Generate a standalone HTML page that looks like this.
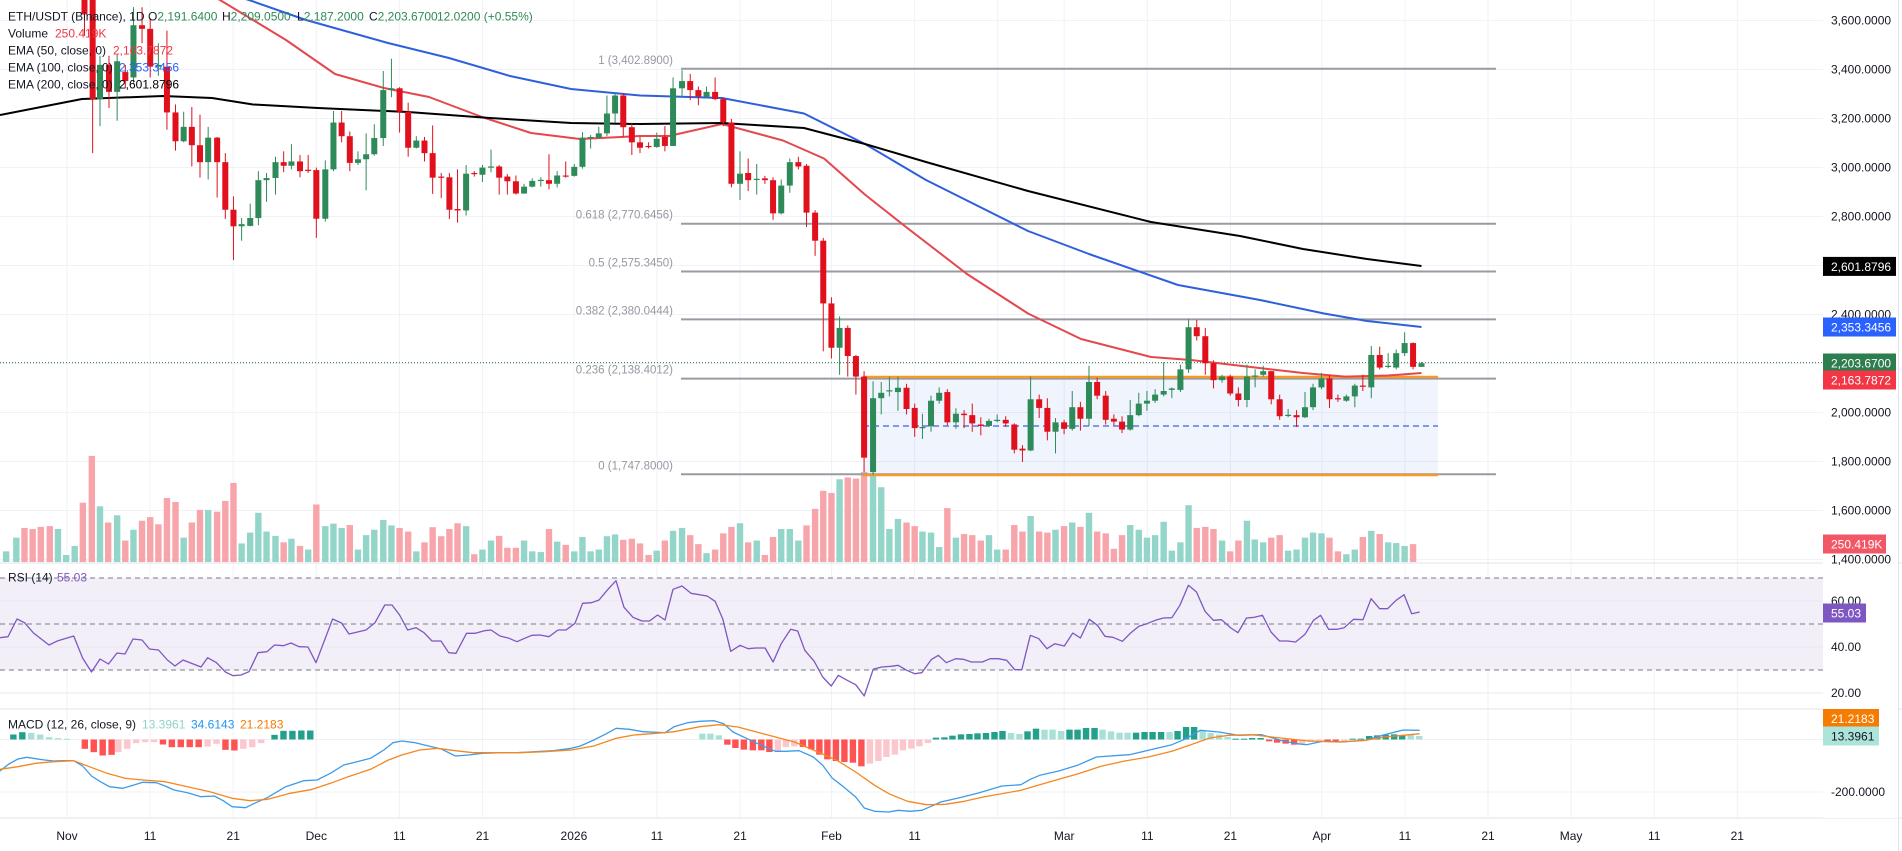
<!DOCTYPE html>
<html><head><meta charset="utf-8"><style>
html,body{margin:0;padding:0;background:#fff;}
svg{display:block;font-family:"Liberation Sans",sans-serif;}
</style></head><body>
<svg id="c" width="1902" height="851" xmlns="http://www.w3.org/2000/svg"></svg>
<script>
const S=document.getElementById('c');let h='';
const G='#2f8a5a',R='#e0101c';
const Y=p=>20.5+(3600-p)*0.245;
function ln(x1,y1,x2,y2,c,w,extra){h+=`<line x1="${x1}" y1="${y1}" x2="${x2}" y2="${y2}" stroke="${c}" stroke-width="${w}" ${extra||''}/>`;}
function tx(x,y,t,c,fs,anchor,extra){h+=`<text x="${x}" y="${y}" fill="${c}" font-size="${fs||11}" ${anchor?'text-anchor="'+anchor+'"':''} ${extra||''}>${t}</text>`;}
function rc(x,y,w,hh,c,extra){h+=`<rect x="${x}" y="${y}" width="${w}" height="${hh}" fill="${c}" ${extra||''}/>`;}
function pl(pts,c,w){h+=`<polyline fill="none" stroke="${c}" stroke-width="${w}" stroke-linejoin="round" points="${pts.map(p=>p[0].toFixed(1)+','+p[1].toFixed(1)).join(' ')}"/>`;}
const gx=[];for(let d of [0,10,20,30,40,50,61,71,81,92,102,112,120,130,140,151,161,171,181,191,201])gx.push(67+d*8.31);
for(const x of gx){ln(x,0,x,818,'#f0f2f7',1);}
for(let p=1400;p<=3600;p+=200){ln(0,Y(p),1823,Y(p),'#f0f2f7',1);}
rc(0,578,1823,92,'#f2eff9');
for(const v of [601,647,693])ln(0,v,1823,v,'#e9e7f0',1);
for(const v of [578,624,670])ln(0,v,1823,v,'#7b7d87',1,'stroke-dasharray="5,4"');
ln(0,739.5,1823,739.5,'#eef0f5',1);ln(0,792,1823,792,'#eef0f5',1);
ln(0,563,1902,563,'#e0e3eb',1);ln(0,709,1902,709,'#e0e3eb',1);ln(0,818,1902,818,'#e0e3eb',1);
ln(1898.5,0,1898.5,851,'#e0e3eb',1);
const V6=[[15,'t',1530],[40,'t',1492],[60,'p',1465],[80,'p',1468],[100,'p',1462],[122,'p',1460],[142,'t',1468],[162,'t',1540],[183,'t',1515],[203,'p',1395],[225,'p',1265],[245,'t',1405],[265,'p',1450],[287,'t',1430],[307,'p',1500],[327,'t',1470],[348,'p',1445],[368,'p',1435],[388,'p',1455],[409,'p',1382],[430,'p',1393],[450,'t',1492],[470,'p',1450],[490,'p',1415],[510,'t',1415],[532,'p',1420],[552,'p',1390],[572,'p',1340],[592,'t',1508],[613,'t',1478],[633,'t',1423],[653,'t',1475],[675,'t',1487],[695,'p',1505],[714,'t',1495],[735,'p',1515],[755,'t',1525],[775,'p',1400],[797,'t',1460],[817,'t',1453],[837,'t',1465],[857,'p',1457],[877,'t',1525],[897,'t',1485],[917,'t',1470],[939,'t',1443],[959,'t',1458],[979,'p',1465],[1000,'p',1475],[1020,'t',1530],[1040,'p',1505],[1060,'p',1463],[1081,'p',1488],[1101,'p',1468],[1121,'p',1452],[1142,'t',1460],[1162,'p',1538],[1182,'t',1525],[1203,'t',1500],[1223,'p',1487],[1243,'p',1520],[1264,'p',1520],[1284,'t',1500],[1304,'t',1530],[1325,'t',1532],[1345,'p',1468],[1365,'t',1503],[1386,'p',1512],[1407,'t',1530],[1427,'t',1490],[1447,'t',1530],[1467,'t',1525],[1487,'t',1488],[1507,'t',1483],[1527,'p',1498],[1548,'p',1495]];
const V7=[[49,'p',1508],[70,'p',1540],[90,'t',1528],[110,'p',1500],[130,'t',1473],[152,'t',1465],[172,'p',1485],[192,'p',1510],[212,'t',1535],[233,'p',1525],[253,'p',1480],[273,'p',1462],[294,'t',1452],[314,'p',1505],[335,'t',1500],[355,'p',1540],[375,'p',1490],[395,'t',1468],[416,'t',1468],[437,'t',1500],[457,'p',1458],[478,'p',1412],[498,'p',1362],[518,'p',1368],[538,'t',1330],[558,'p',1325],[578,'p',1328],[598,'p',1310],[620,'t',1318],[640,'t',1352],[660,'t',1468],[681,'t',1440],[702,'p',1450],[722,'p',1460],[741,'t',1475],[762,'t',1478],[782,'t',1518],[802,'p',1410],[823,'t',1492],[843,'p',1482],[863,'p',1485],[884,'p',1500],[904,'t',1485],[924,'t',1525],[945,'p',1525],[966,'p',1457],[986,'p',1475],[1006,'t',1432],[1027,'p',1475],[1047,'p',1478],[1067,'t',1470],[1088,'p',1460],[1108,'t',1450],[1128,'p',1462],[1149,'t',1423],[1169,'p',1475],[1190,'p',1480],[1210,'p',1523],[1230,'p',1485],[1250,'t',1457],[1271,'t',1470],[1291,'t',1492],[1311,'t',1485],[1332,'t',1448],[1352,'t',1528],[1373,'t',1505],[1393,'t',1402],[1413,'p',1465],[1434,'p',1462],[1454,'p',1468],[1475,'t',1500],[1495,'p',1530],[1515,'p',1500],[1536,'t',1445]];
const V8=[[35,'t',1497],[55,'t',1505],[74,'p',1492],[94,'p',1485],[114,'t',1528],[134,'t',1525],[154,'t',1492],[173,'t',1478],[193,'t',1480],[212,'p',1492],[232,'p',1530],[252,'t',1538],[272,'t',1525],[291,'p',1490],[311,'t',1473],[331,'p',1482],[351,'t',1505],[370,'t',1507],[390,'t',1515],[410,'p',1510]];
function vol(a,f){for(const [zx,c,t] of a){const x=f(zx),y=t/2.775;rc(x-3.2,y,6.4,562-y,c=='t'?'#93d5c9':'#f7a5ab');}}
vol(V6,z=>z/2.45);vol(V7,z=>620+z/2.45);vol(V8,z=>1240+z/2.369);
const fib=[[3402.89,'1 (3,402.8900)'],[2770.6456,'0.618 (2,770.6456)'],[2575.345,'0.5 (2,575.3450)'],[2380.0444,'0.382 (2,380.0444)'],[2138.4012,'0.236 (2,138.4012)'],[1747.8,'0 (1,747.8000)']];
for(const [p,t] of fib){const y=Y(p);ln(681,y,1496,y,'#999ba3',2);tx(673,y-5,t,'#9598a1',11.5,'end');}
rc(863,377,575,98,'#2f6fe8','fill-opacity="0.08"');
ln(863,377,1438,377,'#f39a2b',2.5);ln(863,475,1438,475,'#f39a2b',2.5);
ln(863,426,1438,426,'#3d5fe0',1.2,'stroke-dasharray="6,4"');
ln(0,362.6,1823,362.6,'#2f6b4a',1,'stroke-dasharray="1,2"');
pl([[200,-10],[220,0],[286,40],[335,74],[384,88],[429,97],[482,117],[531,133],[580,139],[640,136],[669,136],[722,124],[783,140.5],[824,158.5],[865,194.6],[906,227],[967,274],[1028,313.5],[1081,339],[1151,357],[1191,360],[1240,365.8],[1303,373],[1345,376.6],[1388,375.5],[1421.5,373]],'#e4474d',2);
pl([[180,-20],[249,0],[306,20],[388,43],[449,58],[510,76],[571,89],[640,95.5],[722,98],[804,113.5],[865,144],[926,180],[1028,231],[1089,254],[1178,285],[1260,300],[1324,313.5],[1367,321],[1421.5,327]],'#2e5fdc',2);
pl([[0,115],[82,99],[163,96],[212,98],[253,104.5],[318,108],[408,112],[490,118],[571,123],[640,124],[722,123],[804,128],[865,144],[926,162],[1028,191],[1151,222],[1240,236],[1303,249],[1367,259],[1421.5,266]],'#000',2);
const C6=[[207,'r',-60,40,-80,100],[227,'r',0,275,-20,425],[245,'g',180,275,155,350],[267,'r',180,255,155,300],[287,'g',170,255,150,335],[307,'r',200,225,180,245],[327,'g',70,215,20,230],[348,'r',70,80,20,120],[368,'r',80,185,50,215],[388,'g',180,185,120,210],[409,'r',185,312,85,360],[430,'r',312,392,290,418],[450,'g',352,392,310,395],[470,'r',352,403,297,462],[490,'r',403,450,318,493],[510,'g',382,450,352,498],[532,'r',382,450,380,548],[552,'r',450,582,425,608],[572,'r',582,628,545,722],[592,'g',622,628,605,668],[613,'g',605,627,565,628],[633,'g',500,605,475,625],[653,'g',494,500,480,560],[675,'g',450,494,435,540],[695,'r',450,460,420,478],[714,'g',448,460,400,470],[735,'r',448,475,430,492],[755,'r',471,473,430,480],[775,'r',472,607,465,660],[797,'g',470,607,445,615],[817,'g',340,470,308,475],[837,'r',340,378,308,395],[857,'r',378,452,365,475],[877,'g',442,452,420,458],[897,'g',428,442,370,528],[917,'g',383,428,345,432],[939,'g',250,383,197,405],[959,'g',245,250,163,270],[979,'r',245,310,242,368],[1000,'r',310,410,285,435],[1020,'g',390,410,378,412],[1040,'r',390,425,380,448],[1060,'r',425,493,348,538],[1081,'r',490,492,480,550],[1101,'r',492,582,480,608],[1121,'r',580,584,470,618],[1142,'g',482,584,458,598],[1162,'r',480,483,475,490],[1182,'g',465,485,458,505],[1203,'g',462,465,415,478],[1223,'r',462,493,458,540],[1243,'r',490,503,483,540],[1264,'r',503,537,487,540],[1284,'g',518,537,510,538],[1304,'g',502,518,495,520],[1325,'g',499,501,492,518],[1345,'r',500,510,428,525],[1365,'g',487,510,475,520],[1386,'r',487,489,448,493],[1407,'g',463,488,455,490],[1427,'g',382,463,367,468],[1447,'g',380,382,375,412],[1467,'g',370,382,352,385],[1487,'g',315,370,265,378],[1507,'g',265,315,258,340],[1527,'r',265,353,258,380],[1548,'r',353,395,342,430]];
const C7=[[49,'r',395,410,380,425],[70,'r',405,408,395,412],[90,'g',385,408,368,410],[110,'r',380,405,350,420],[130,'g',245,405,215,405],[152,'g',225,245,195,270],[172,'r',225,250,205,278],[192,'r',250,268,240,292],[212,'g',255,268,240,272],[233,'r',255,275,215,278],[253,'r',275,340,270,350],[273,'r',340,510,330,520],[294,'g',482,510,420,555],[314,'r',480,500,440,530],[335,'g',496,498,455,540],[355,'r',495,500,488,510],[375,'r',500,592,492,610],[395,'g',515,592,498,595],[416,'g',450,515,440,535],[437,'r',450,462,435,470],[457,'r',460,590,455,630],[478,'r',590,668,583,710],[498,'r',668,842,660,975],[518,'r',842,965,825,995],[538,'g',910,965,878,1040],[558,'r',910,988,903,1045],[578,'r',988,1045,985,1095],[598,'r',1045,1270,1030,1310],[620,'g',1105,1310,1058,1318],[640,'g',1090,1105,1060,1150],[660,'g',1083,1086,1045,1100],[681,'g',1076,1088,1045,1140],[702,'r',1076,1135,1065,1150],[722,'r',1132,1188,1120,1212],[741,'g',1185,1188,1148,1218],[762,'g',1112,1183,1098,1198],[782,'g',1090,1112,1075,1120],[802,'r',1088,1172,1080,1180],[823,'g',1148,1172,1133,1190],[843,'r',1148,1152,1138,1188],[863,'r',1152,1175,1120,1198],[884,'r',1178,1182,1158,1208],[904,'g',1168,1182,1162,1185],[924,'g',1165,1168,1150,1172],[945,'r',1165,1175,1155,1185],[966,'r',1178,1248,1175,1258],[986,'r',1245,1250,1235,1282],[1006,'g',1108,1250,1045,1252],[1027,'r',1108,1132,1095,1160],[1047,'r',1132,1198,1105,1222],[1067,'g',1172,1198,1160,1258],[1088,'r',1172,1190,1165,1205],[1108,'g',1130,1190,1085,1195],[1128,'r',1130,1162,1115,1195],[1149,'g',1060,1162,1015,1182],[1169,'r',1060,1098,1048,1108],[1190,'r',1098,1165,1085,1178],[1210,'r',1162,1170,1150,1180],[1230,'r',1170,1192,1155,1202],[1250,'g',1152,1192,1110,1195],[1271,'g',1120,1152,1090,1155],[1291,'g',1112,1120,1085,1140],[1311,'g',1095,1112,1080,1118],[1332,'g',1085,1095,1005,1100],[1352,'g',1078,1082,1075,1105],[1373,'g',1025,1082,1012,1088],[1393,'g',908,1025,885,1035],[1413,'r',908,933,888,945],[1434,'r',933,1008,910,1040],[1454,'r',1008,1055,1000,1078],[1475,'g',1045,1055,1040,1062],[1495,'r',1045,1092,1040,1098],[1515,'r',1092,1110,1075,1128],[1536,'g',1045,1110,1012,1130],[1556,'g',1042,1045,1025,1075]];
const C8=[[55,'g',1030,1040,1015,1045],[74,'r',1030,1108,1030,1122],[94,'r',1108,1155,1095,1165],[114,'g',1151,1153,1135,1158],[134,'r',1152,1158,1138,1185],[154,'g',1130,1158,1088,1160],[173,'g',1075,1130,1065,1138],[193,'g',1050,1075,1035,1080],[212,'r',1050,1108,1040,1132],[232,'r',1105,1108,1095,1115],[252,'g',1100,1112,1095,1115],[272,'g',1070,1100,1065,1130],[291,'r',1070,1072,1040,1085],[311,'g',985,1075,960,1105],[331,'r',985,1020,962,1025],[351,'g',1015,1018,980,1022],[370,'g',980,1020,970,1025],[390,'g',952,980,922,988],[410,'r',952,1018,950,1025],[430,'g',1008,1018,1005,1018]];
function cand(a,f){for(const [zx,c,b1,b2,wt,wb] of a){const x=f(zx),col=c=='g'?G:R;let t=Math.min(b1,b2)/2.775,b=Math.max(b1,b2)/2.775;if(b-t<1.2)b=t+1.2;ln(x,wt/2.775,x,wb/2.775,col,1);rc(x-3,t,6,b-t,col);}}
cand(C6,z=>z/2.45);cand(C7,z=>620+z/2.45);cand(C8,z=>1240+z/2.369);
const r3=[[0,637.7],[8,636.7],[17,619],[24.5,622.7],[33.5,633],[49,645],[58,640.7],[73.7,636],[82.6,658],[91.5,672],[100,659],[108.5,664],[117,653],[125,654],[133,639],[142,640],[149.5,649],[158.5,650],[167.4,660],[175,666],[183,660],[201,667],[207.6,657.7],[216.5,662.7],[225.4,672],[233,675.7],[241,675],[249,671.7],[258,652.7],[267,651.7],[274.5,645],[283.5,645.7],[291,643],[299,646.7],[308,647],[316,662.7],[332.6,619],[341.5,623],[349,634],[366,630],[375,622.7],[384.8,605],[392,605],[399.6,615],[407.6,630],[416,627.7],[424,632.7],[432,641],[441,641],[448.7,652.7],[456,653.3],[466.5,633.3],[475.4,633.3],[484.4,630.7],[491,630],[500,636],[509,638.3],[517,641.7],[524.6,638.3],[532,635.3],[540,635],[549,636.7],[558,630],[566,630],[575,623.3],[582.6,603.3],[591.5,602.7],[599,600],[608,589.3],[616,580.7],[624,607.3],[633,617.3],[642,621],[649.5,621],[657.6,615],[665,620],[673,589.3],[682,586],[691,593.3]];
const r9=[[15,102],[32,118],[48,170],[65,268],[85,250],[102,260],[118,258],[138,258],[155,300],[172,245],[192,202],[207,207],[222,265],[242,298],[260,345],[278,372],[293,340],[312,355],[330,368],[348,402],[367,322],[385,315],[405,313],[420,310],[438,325],[455,335],[470,332],[490,293],[505,280],[522,302],[542,290],[558,292],[575,300],[598,300],[615,290],[632,290],[650,295],[667,323],[682,323],[700,220],[718,230],[735,260],[752,245],[772,252],[790,213],[806,228],[825,172],[842,190],[858,223],[875,226],[895,238],[913,212],[930,193],[947,185],[965,175],[982,168],[1000,167],[1017,130],[1035,70],[1052,90],[1070,148],[1088,175],[1105,173],[1125,198],[1140,212],[1158,168],[1175,166],[1192,160],[1210,210],[1228,237],[1245,237],[1262,240],[1282,217],[1300,175],[1315,160],[1332,202],[1350,202],[1365,197],[1385,172],[1405,173],[1422,110],[1440,140],[1457,140],[1475,115],[1492,98],[1508,155],[1525,150]].map(p=>[700+p[0]/2.119,562+p[1]/3]);
pl(r3.concat(r9),'#7e57c2',1.3);
const H3=[[30,'T',522],[50,'T',515],[70,'t',517],[90,'t',522],[110,'t',530],[130,'t',533],[150,'t',535],[190,'R',565],[210,'R',575],[230,'R',585],[250,'R',583],[265,'r',575],[285,'r',565],[305,'r',548],[325,'r',545],[345,'r',545],[365,'R',552],[385,'R',560],[405,'R',560],[425,'R',560],[445,'R',560],[465,'r',558],[485,'r',550],[505,'R',568],[525,'R',570],[545,'r',565],[565,'r',560],[585,'r',548],[615,'T',523],[635,'T',511],[655,'T',511],[675,'T',510],[695,'T',510]];
const H9=[[5,'t',515],[22,'t',515],[40,'t',520],[58,'R',548],[75,'R',558],[93,'R',563],[112,'R',565],[130,'R',565],[147,'R',570],[165,'r',568],[182,'r',555],[200,'r',553],[218,'R',555],[236,'R',562],[253,'R',578],[270,'R',592],[288,'R',597],[306,'R',600],[324,'R',602],[342,'R',613],[360,'r',605],[378,'r',597],[395,'r',585],[413,'r',578],[430,'r',565],[448,'r',560],[465,'r',553],[483,'r',543],[500,'T',527],[518,'T',526],[535,'T',521],[553,'T',517],[571,'T',516],[588,'T',514],[606,'T',513],[624,'T',510],[641,'T',507],[659,'t',513],[677,'t',516],[694,'T',508],[712,'T',500],[730,'t',503],[747,'t',503],[765,'t',507],[783,'T',503],[800,'T',503],[818,'T',498],[836,'T',498],[853,'t',503],[871,'t',508],[889,'t',512],[906,'t',512],[924,'T',512],[942,'T',510],[959,'T',510],[977,'T',510],[995,'t',510],[1012,'T',507],[1030,'T',495],[1047,'T',495],[1065,'t',505],[1082,'t',513],[1100,'t',518],[1118,'t',525],[1135,'T',530],[1153,'T',530],[1170,'T',528],[1188,'T',528],[1206,'R',538],[1223,'R',542],[1241,'R',545],[1259,'R',548],[1276,'r',545],[1294,'r',540],[1312,'r',538],[1330,'R',538],[1347,'R',540],[1365,'r',537],[1383,'T',530],[1400,'T',530],[1418,'T',522],[1435,'T',520],[1453,'T',518],[1471,'T',517],[1488,'T',520],[1506,'t',518],[1524,'t',522]];
const HC={T:'#22a08c',t:'#a9e0d6',R:'#ff5252',r:'#fcc7cc'};
function hist(a,fx,fy){for(const [zx,c,zy] of a){const x=fx(zx),y=fy(zy);const t=Math.min(y,739.5),b=Math.max(y,739.5);rc(x-3.2,t,6.4,Math.max(b-t,1),HC[c]);}}
hist(H3,z=>z/2.24,z=>560+z/3+0.5);hist(H9,z=>700+z/2.119,z=>562+z/3);
const mb3=[[0,633],[20,612],[40,597],[60,592],[80,596],[100,600],[120,603],[140,602],[165,602],[185,618],[205,648],[225,665],[245,680],[275,685],[300,675],[320,667],[350,668],[370,678],[390,690],[420,698],[450,710],[480,708],[500,722],[520,740],[550,743],[570,730],[600,712],[640,680],[680,662],[710,660],[740,640],[770,615],[800,605],[830,595],[860,570],[880,548],[900,543],[930,548],[960,558],[990,568],[1020,588],[1050,585],[1080,580],[1120,578],[1160,578],[1200,575],[1240,572],[1280,565],[1300,558],[1330,540],[1360,520],[1380,505],[1410,508],[1440,515],[1470,517],[1490,518],[1510,500],[1540,488],[1568,484]].map(p=>[p[0]/2.24,560+p[1]/3]);
const mb9=[[30,476],[50,485],[70,510],[100,530],[130,550],[160,568],[180,568],[210,566],[240,585],[260,610],[280,648],[300,670],[330,705],[348,738],[370,748],[400,750],[420,745],[445,748],[470,745],[490,733],[510,720],[550,707],[590,693],[640,672],[680,668],[700,652],[720,640],[760,627],[800,610],[840,585],[890,580],[910,578],[950,565],[1000,548],[1030,530],[1060,505],[1100,510],[1140,520],[1190,518],[1230,535],[1265,545],[1285,548],[1320,538],[1360,540],[1410,535],[1450,518],[1490,504],[1525,505]].map(p=>[700+p[0]/2.119,562+p[1]/3]);
const ms3=[[0,628],[40,620],[80,610],[120,605],[165,602],[200,620],[240,640],[280,655],[320,660],[370,665],[420,680],[470,695],[520,715],[560,722],[600,718],[650,700],[700,688],[740,670],[780,650],[830,628],[870,600],[900,585],[940,570],[980,565],[1020,572],[1060,578],[1100,578],[1160,578],[1220,575],[1280,570],[1330,558],[1380,535],[1420,525],[1470,520],[1510,515],[1568,500]].map(p=>[p[0]/2.24,560+p[1]/3]);
const ms9=[[40,488],[80,495],[120,510],[160,525],[200,540],[250,570],[290,595],[330,630],[370,670],[400,695],[440,718],[480,728],[520,727],[560,718],[600,705],[680,685],[720,668],[760,652],[800,636],[850,613],[900,597],[950,585],[1000,568],[1040,548],[1080,528],[1120,520],[1170,518],[1230,528],[1290,537],[1350,540],[1410,535],[1450,525],[1490,520],[1525,515]].map(p=>[700+p[0]/2.119,562+p[1]/3]);
pl(mb3.concat(mb9),'#3d9be9',1.3);pl(ms3.concat(ms9),'#f5871f',1.3);
rc(1823,0,75,818,'#fff');
for(let p=1400;p<=3600;p+=200){tx(1831,Y(p)+4,p.toLocaleString('en-US')+'.0000','#131722',12);}
tx(1831,605,'60.00','#131722',12);tx(1831,651,'40.00','#131722',12);tx(1831,697,'20.00','#131722',12);
tx(1831,796,'-200.0000','#131722',12);
function box(y,t,bg,fg,w){rc(1823,y-9.5,w||73,19,bg);tx(1831,y+4.5,t,fg||'#fff',12);}
box(266.4,'2,601.8796','#000');box(327,'2,353.3456','#2962ff');box(363,'2,203.6700','#2e7d4f');box(380,'2,163.7872','#f23645');
box(544,'250.419K','#f25767','#fff',63);box(613,'55.03','#7e57c2','#fff',43);
box(718.5,'21.2183','#f57c00','#fff',56);box(736,'13.3961','#ace4da','#131722',56);
const tl=[['Nov',0],['11',10],['21',20],['Dec',30],['11',40],['21',50],['2026',61],['11',71],['21',81],['Feb',92],['11',102],['Mar',120],['11',130],['21',140],['Apr',151],['11',161],['21',171],['May',181],['11',191],['21',201]];
for(const [t,d] of tl)tx(67+d*8.31,840,t,'#131722',12,'middle');
h+=`<g font-size="12">`;
tx(8,20.5,'ETH/USDT (Binance), 1D','#131722',12);
tx(148,20.5,'O<tspan fill="#2e8b57">2,191.6400</tspan>','#131722',12);
tx(222,20.5,'H<tspan fill="#2e8b57">2,209.0500</tspan>','#131722',12);
tx(297,20.5,'L<tspan fill="#2e8b57">2,187.2000</tspan>','#131722',12);
tx(369,20.5,'C<tspan fill="#2e8b57">2,203.6700</tspan>','#131722',12);
tx(437,20.5,'12.0200 (+0.55%)','#2e8b57',12);
tx(8,37.5,'Volume','#131722',12);tx(55,37.5,'250.419K','#f23645',12);
tx(8,54.5,'EMA (50, close, 0)','#131722',12);tx(113,54.5,'2,163.7872','#f23645',12);
tx(8,71.5,'EMA (100, close, 0)','#131722',12);tx(119,71.5,'2,353.3456','#2962ff',12);
tx(8,88.5,'EMA (200, close, 0)','#131722',12);tx(119,88.5,'2,601.8796','#000',12);
tx(8,581.5,'RSI (14)','#131722',12);tx(57,581.5,'55.03','#7e57c2',12);
tx(8,728.5,'MACD (12, 26, close, 9)','#131722',12);tx(142,728.5,'13.3961','#8fd3c8',12);tx(191,728.5,'34.6143','#2196f3',12);tx(240,728.5,'21.2183','#f57c00',12);
h+=`</g>`;
S.innerHTML=h;
</script>
</body></html>
